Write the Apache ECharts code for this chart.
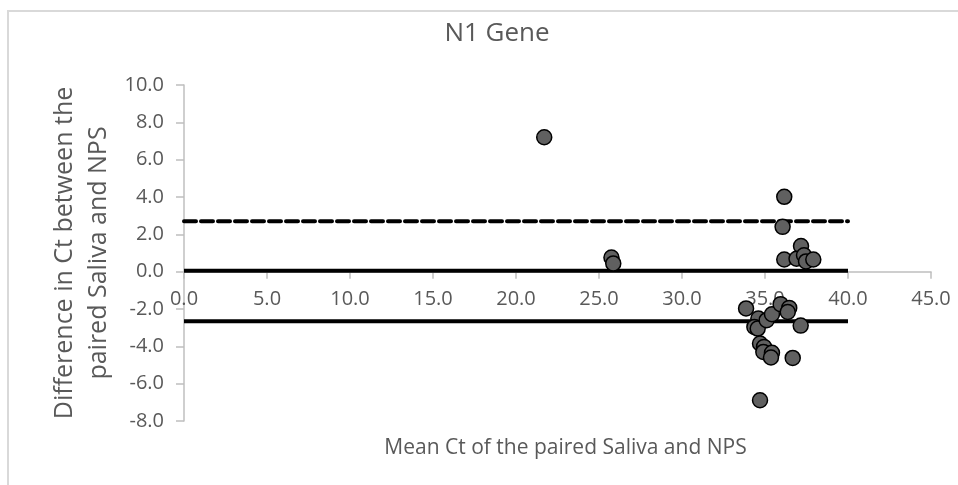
<!DOCTYPE html>
<html>
<head>
<meta charset="utf-8">
<script src="https://cdn.jsdelivr.net/npm/echarts@6/dist/echarts.min.js"></script>
<style>
  html, body { margin: 0; padding: 0; background: #fff; }
  #main { width: 958px; height: 485px; }
</style>
</head>
<body>
<div id="main"></div>
<script>
// mean Ct of the paired samples (x) and difference in Ct (y)
const meanCt = [21.7, 25.75, 25.86, 36.16, 36.06, 37.17, 36.16, 36.9, 37.35, 37.47, 37.91,
  33.86, 34.6, 34.36, 34.56, 35.1, 35.42, 35.94, 36.46, 36.37, 37.15,
  34.7, 34.94, 34.9, 35.42, 35.36, 36.67, 34.7]
const diffCt = [7.2, 0.76, 0.44, 4.01, 2.4, 1.37, 0.65, 0.69, 0.88, 0.55, 0.65,
  -1.97, -2.51, -2.96, -3.05, -2.6, -2.28, -1.74, -1.94, -2.16, -2.89,
  -3.85, -4.03, -4.3, -4.35, -4.6, -4.62, -6.89]

// bias and limits of agreement
const lineExtent = [0, 40]
const meanDiff = 0.05
const upperLimit = 2.7
const lowerLimit = -2.65

const points = meanCt.map((x, i) => [x, diffCt[i]])
const hLine = (v) => lineExtent.map((x) => [x, v])

const labelColor = '#595959'
const axisColor = '#bfbfbf'
const font = 'Open Sans'

const chart = echarts.init(document.getElementById('main'))
const option = {
  animation: false,
  title: {
    text: 'N1 Gene',
    left: 492,
    top: 16,
    textAlign: 'center',
    textStyle: { color: labelColor, fontSize: 26, fontWeight: 'normal', fontFamily: font }
  },
  grid: { left: 184, right: 27, top: 85, bottom: 64 },
  xAxis: {
    type: 'value',
    min: 0,
    max: 45,
    interval: 5,
    name: 'Mean Ct of the paired Saliva and NPS',
    nameLocation: 'middle',
    nameGap: 17,
    nameMoveOverlap: false,
    nameTextStyle: { color: labelColor, fontSize: 21, fontFamily: font, padding: [0, 0, 0, 16] },
    axisLine: { onZero: true, lineStyle: { color: axisColor, width: 1.5 } },
    axisTick: { show: true, length: 7, lineStyle: { color: axisColor, width: 1.5 } },
    axisLabel: {
      color: labelColor, fontSize: 20, fontFamily: font, margin: -132,
      formatter: (v) => v.toFixed(1)
    },
    splitLine: { show: false }
  },
  yAxis: {
    type: 'value',
    min: -8,
    max: 10,
    interval: 2,
    name: 'Difference in Ct between the\npaired Saliva and NPS',
    nameLocation: 'middle',
    nameGap: 68,
    nameMoveOverlap: false,
    nameTextStyle: { color: labelColor, fontSize: 25, fontFamily: font, lineHeight: 34 },
    axisLine: { lineStyle: { color: axisColor, width: 1.5 } },
    axisTick: { show: true, length: 8, lineStyle: { color: axisColor, width: 1.5 } },
    axisLabel: {
      color: labelColor, fontSize: 20, fontFamily: font, margin: 20,
      formatter: (v) => v.toFixed(1)
    },
    splitLine: { show: false }
  },
  series: [
    {
      type: 'line',
      data: hLine(meanDiff),
      symbol: 'none',
      lineStyle: { color: '#000', width: 4 },
      z: 2
    },
    {
      type: 'line',
      data: hLine(upperLimit),
      symbol: 'none',
      lineStyle: { color: '#000', width: 4, type: [12, 5], cap: 'round' },
      z: 2
    },
    {
      type: 'line',
      data: hLine(lowerLimit),
      symbol: 'none',
      lineStyle: { color: '#000', width: 4 },
      z: 2
    },
    {
      type: 'scatter',
      data: points,
      symbolSize: 15,
      itemStyle: { color: '#606060', borderColor: '#000', borderWidth: 1.5, opacity: 1 },
      z: 5
    }
  ],
  graphic: [
    {
      type: 'rect',
      shape: { x: 8, y: 11, width: 1000, height: 600 },
      style: { fill: 'none', stroke: '#d9d9d9', lineWidth: 2 },
      silent: true,
      z: -1
    }
  ]
}
chart.setOption(option)
</script>
</body>
</html>
